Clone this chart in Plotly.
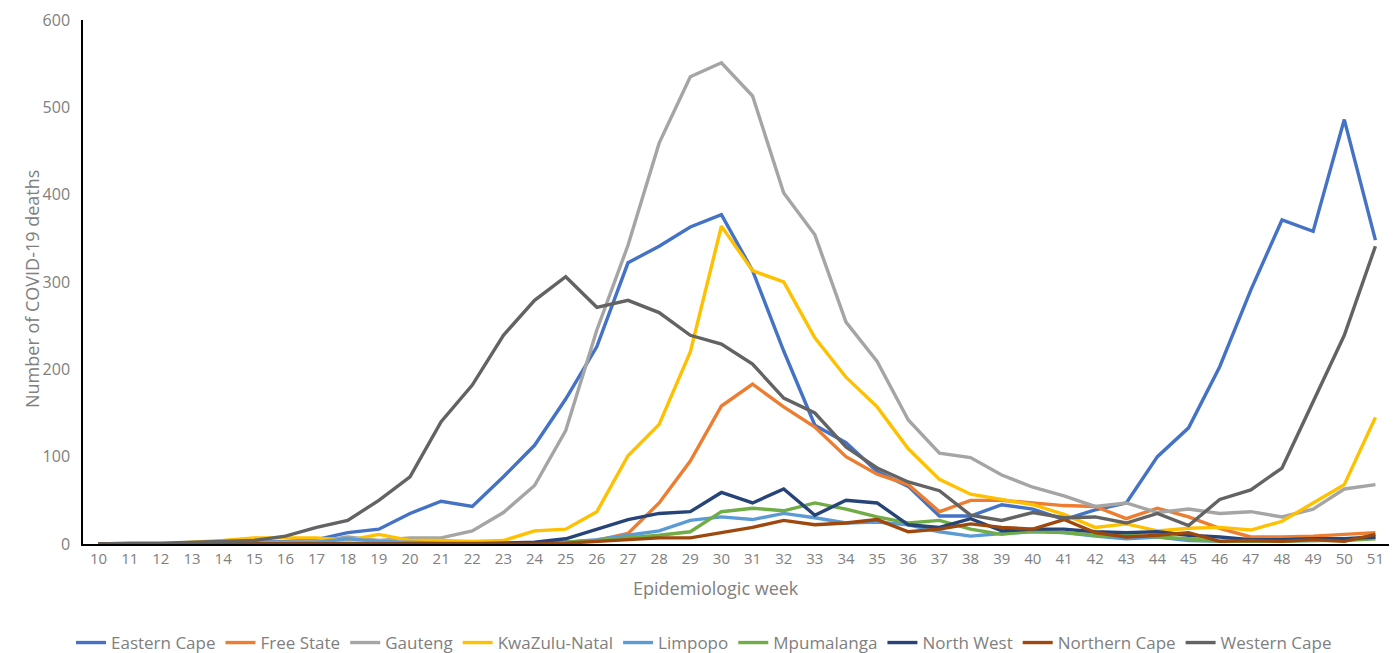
import plotly.graph_objects as go

weeks = list(range(10, 52))

eastern_cape = [0, 0, 0, 0, 1, 2, 3, 5, 13, 17, 35, 49, 43, 77, 113, 166, 226, 322, 341, 363, 377,
                313, 221, 136, 116, 83, 66, 32, 32, 45, 40, 28, 39, 47, 100, 133, 203, 291, 371, 358, 486, 348]
free_state = [0, 0, 0, 0, 0, 0, 1, 1, 1, 1, 1, 1, 1, 1, 1, 2, 4, 12, 47, 95, 158,
              183, 157, 134, 100, 80, 68, 37, 50, 50, 47, 44, 43, 29, 41, 31, 18, 8, 8, 9, 11, 13]
gauteng = [0, 0, 0, 1, 1, 2, 2, 3, 8, 4, 7, 7, 15, 36, 67, 130, 245, 342, 459, 535, 551,
           513, 402, 354, 254, 209, 142, 104, 99, 79, 65, 55, 43, 47, 36, 40, 35, 37, 31, 40, 63, 68]
kwazulu_natal = [0, 0, 0, 2, 4, 7, 7, 7, 4, 11, 4, 4, 3, 4, 15, 17, 37, 101, 137, 220, 364,
                 313, 300, 236, 191, 157, 109, 74, 57, 51, 45, 34, 19, 23, 15, 18, 19, 16, 26, 47, 68, 145]
limpopo = [0, 0, 0, 0, 0, 1, 1, 2, 6, 3, 2, 1, 1, 1, 1, 2, 5, 10, 15, 27, 31,
           28, 35, 30, 24, 25, 22, 14, 9, 12, 14, 13, 9, 6, 8, 4, 3, 3, 4, 4, 5, 8]
mpumalanga = [0, 0, 0, 0, 0, 0, 0, 0, 0, 0, 0, 0, 0, 0, 1, 2, 4, 7, 10, 14, 37,
              41, 38, 47, 40, 31, 24, 27, 17, 11, 15, 13, 10, 10, 8, 6, 3, 3, 3, 4, 4, 6]
north_west = [0, 0, 0, 0, 0, 0, 0, 0, 0, 0, 0, 0, 0, 1, 2, 6, 17, 28, 35, 37, 59,
              47, 63, 33, 50, 47, 22, 19, 29, 15, 17, 17, 14, 13, 14, 10, 8, 5, 5, 6, 6, 8]
northern_cape = [0, 0, 0, 0, 0, 0, 0, 0, 0, 0, 0, 0, 0, 0, 0, 1, 3, 5, 7, 7, 13,
                 19, 27, 22, 24, 28, 14, 17, 23, 19, 17, 28, 13, 8, 10, 13, 3, 4, 3, 5, 3, 11]
western_cape = [0, 1, 1, 2, 3, 4, 9, 19, 27, 50, 77, 140, 182, 239, 279, 306, 271, 279, 265, 239, 229,
                206, 167, 150, 111, 87, 71, 61, 33, 27, 36, 30, 31, 24, 35, 21, 51, 62, 87, 163, 239, 341]

series = [
    ("Eastern Cape", eastern_cape, "#4472C4"),
    ("Free State", free_state, "#ED7D31"),
    ("Gauteng", gauteng, "#A5A5A5"),
    ("KwaZulu-Natal", kwazulu_natal, "#FFC000"),
    ("Limpopo", limpopo, "#5B9BD5"),
    ("Mpumalanga", mpumalanga, "#70AD47"),
    ("North West", north_west, "#264478"),
    ("Northern Cape", northern_cape, "#9E480E"),
    ("Western Cape", western_cape, "#636363"),
]

FONT = "Open Sans"
GREY = "#808080"

# the page body has an 8px margin, so the figure is drawn 8px in from the corner
OFF = 8
W, H = 1397 - OFF, 653 - OFF
pl, pt = 83 - OFF, 20 - OFF
pr = W - (1391 - OFF)
pb = H - (544 - OFF)
pw, ph = W - pl - pr, H - pt - pb


def px_x(x):
    return (x - OFF - pl) / pw


def px_y(y):
    return (H - pb - (y - OFF)) / ph


fig = go.Figure()
for name, vals, color in series:
    fig.add_trace(go.Scatter(x=weeks, y=vals, mode="lines", name=name,
                             line=dict(color=color, width=3.4)))

fig.update_layout(
    width=W, height=H,
    margin=dict(l=pl, r=pr, t=pt, b=pb, autoexpand=False),
    paper_bgcolor="white", plot_bgcolor="white",
    font=dict(family=FONT, size=14, color=GREY),
    legend=dict(orientation="h", x=px_x(704), xanchor="center",
                y=px_y(643), yanchor="middle",
                font=dict(size=17, color=GREY), itemwidth=30, tracegroupgap=0),
    annotations=[
        dict(text="Epidemiologic week", x=px_x(716), xref="paper",
             y=px_y(602), yref="paper", showarrow=False,
             font=dict(size=18, color=GREY)),
        dict(text="Number of COVID-19 deaths", x=px_x(18), xref="paper",
             y=px_y(289), yref="paper", showarrow=False, textangle=-90,
             font=dict(size=18, color=GREY)),
    ],
)

fig.update_xaxes(
    range=[9.5, 51.5], tickmode="array", tickvals=weeks, ticktext=[str(w) for w in weeks],
    showgrid=False, zeroline=False, showline=True, linecolor="#000000", linewidth=1.5,
    ticks="", tickfont=dict(size=15, color=GREY), automargin=False,
)
fig.update_yaxes(
    range=[0, 600], dtick=100, showgrid=False, zeroline=False,
    showline=True, linecolor="#000000", linewidth=1.5, ticks="",
    tickfont=dict(size=16, color=GREY), ticklabelstandoff=8, automargin=False,
)

fig.write_html("out.html")
